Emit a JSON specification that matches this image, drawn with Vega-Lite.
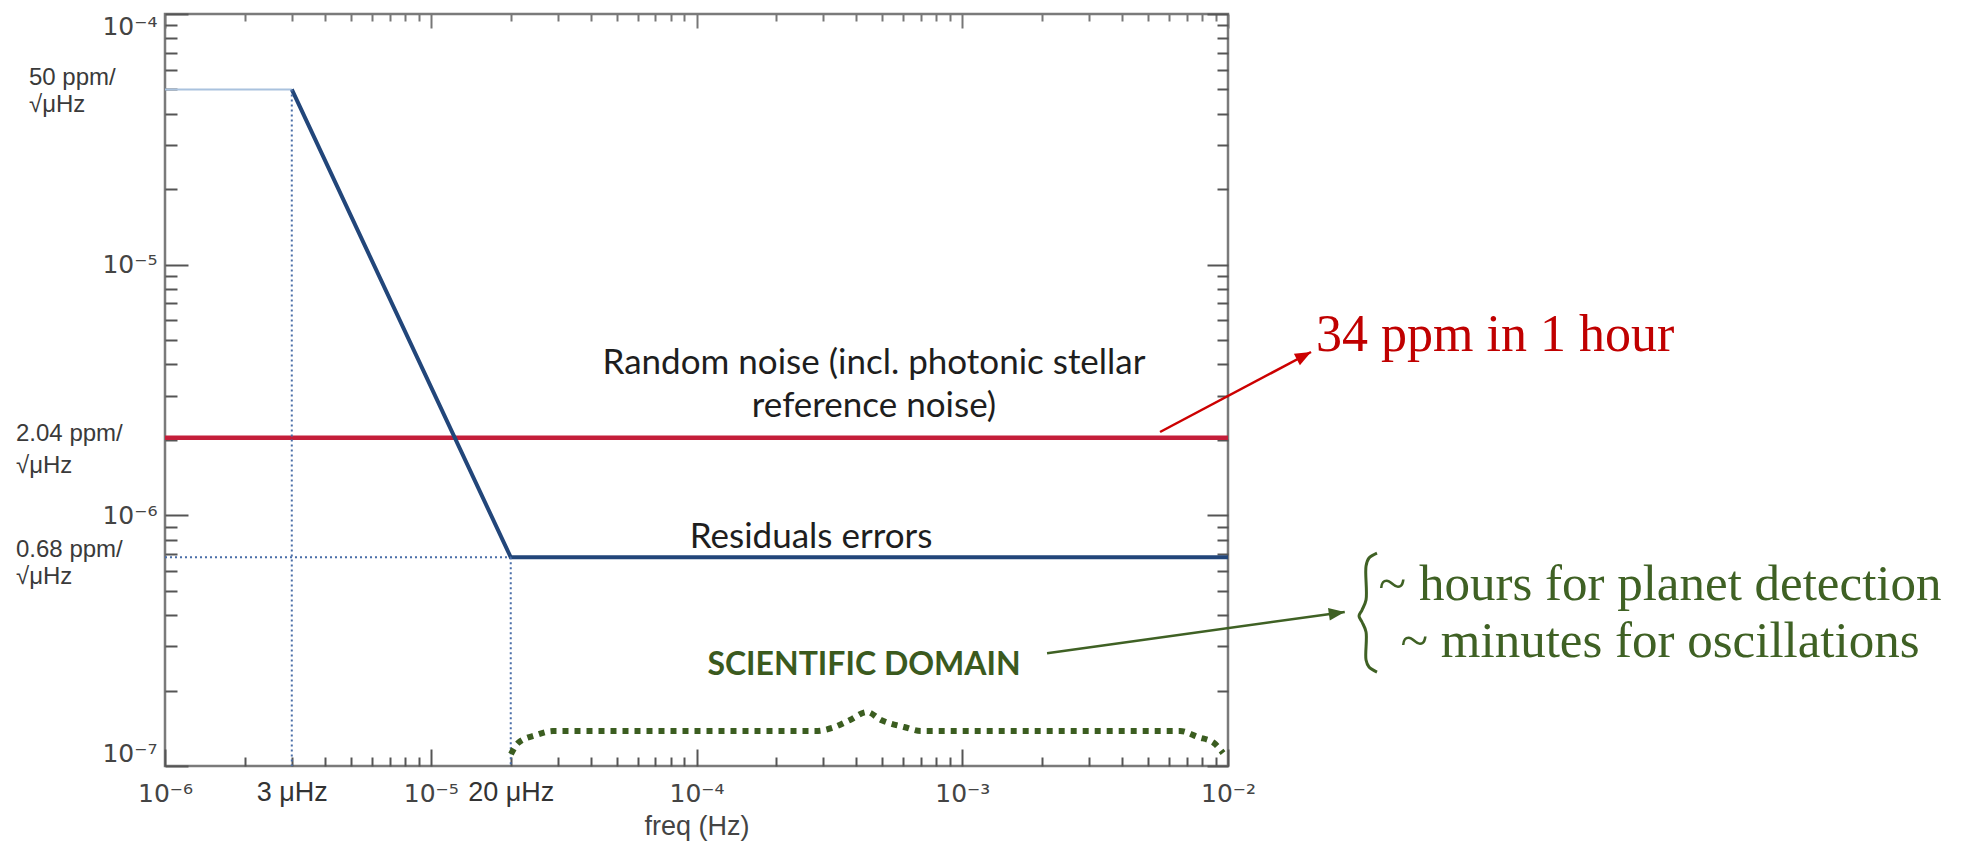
{
  "$schema": "https://vega.github.io/schema/vega-lite/v6.json",
  "width": 1063,
  "height": 752,
  "autosize": {"type": "none"},
  "padding": {"left": 165, "top": 14, "right": 740, "bottom": 79},
  "background": "white",
  "config": {
    "view": {"stroke": "#7a7a7a", "strokeWidth": 2.5},
    "axis": {"grid": false, "domain": false, "labelOverlap": false, "tickColor": "#555555", "tickWidth": 2, "labelFont": "Liberation Sans", "labelColor": "#444444", "titleFont": "Liberation Sans"}
  },
  "resolve": {"axis": {"x": "independent", "y": "independent"}},
  "datasets": {
    "red": [{"x": 1e-6, "y": 2.04e-6}, {"x": 1e-2, "y": 2.04e-6}],
    "blue": [{"x": 3e-6, "y": 5e-5}, {"x": 2e-5, "y": 6.8e-7}, {"x": 1e-2, "y": 6.8e-7}],
    "guideSolid": [{"x": 1e-6, "x2": 3e-6, "y": 5e-5}],
    "guideDotted": [
      {"x": 3e-6, "x2": 3e-6, "y": 5e-5, "y2": 1e-7},
      {"x": 2e-5, "x2": 2e-5, "y": 6.8e-7, "y2": 1e-7},
      {"x": 1e-6, "x2": 2e-5, "y": 6.8e-7, "y2": 6.8e-7}
    ],
    "domainBrace": [
      {"x": 2.004e-5, "y": 1.116e-7}, {"x": 2.13e-5, "y": 1.235e-7}, {"x": 2.49e-5, "y": 1.329e-7},
      {"x": 2.884e-5, "y": 1.379e-7}, {"x": 2.8e-4, "y": 1.379e-7}, {"x": 3.236e-4, "y": 1.418e-7},
      {"x": 3.781e-4, "y": 1.526e-7}, {"x": 4.38e-4, "y": 1.642e-7}, {"x": 4.947e-4, "y": 1.526e-7},
      {"x": 6.036e-4, "y": 1.431e-7}, {"x": 6.996e-4, "y": 1.379e-7}, {"x": 6.597e-3, "y": 1.379e-7},
      {"x": 7.713e-3, "y": 1.305e-7}, {"x": 8.857e-3, "y": 1.235e-7}, {"x": 9.577e-3, "y": 1.126e-7}
    ],
    "sideBrace": [
      {"i": 1, "x": 0.03636, "y": 7.074e-7}, {"i": 2, "x": 0.03393, "y": 6.76e-7}, {"i": 3, "x": 0.03307, "y": 6.28e-7},
      {"i": 4, "x": 0.03307, "y": 4.6e-7}, {"i": 5, "x": 0.03193, "y": 4.19e-7}, {"i": 6, "x": 0.03112, "y": 3.967e-7},
      {"i": 7, "x": 0.03193, "y": 3.754e-7}, {"i": 8, "x": 0.03307, "y": 3.424e-7}, {"i": 9, "x": 0.03307, "y": 2.648e-7},
      {"i": 10, "x": 0.03393, "y": 2.483e-7}, {"i": 11, "x": 0.03636, "y": 2.371e-7}
    ],
    "redArrow": [{"x": 5.55e-3, "y": 2.15e-6}, {"x": 2.053e-2, "y": 4.484e-6}],
    "redTip": [{"x": 2.053e-2, "y": 4.484e-6}],
    "greenArrow": [{"x": 2.085e-3, "y": 2.82e-7}, {"x": 2.75e-2, "y": 4.115e-7}],
    "greenTip": [{"x": 2.75e-2, "y": 4.115e-7}],
    "plotText": [
      {"t": "Random noise (incl. photonic stellar", "x": 4.655e-4, "y": 3.663e-6},
      {"t": "reference noise)", "x": 4.655e-4, "y": 2.468e-6},
      {"t": "Residuals errors", "x": 2.698e-4, "y": 7.407e-7}
    ],
    "domainText": [{"t": "SCIENTIFIC DOMAIN", "x": 4.27e-4, "y": 2.307e-7}],
    "leftText": [
      {"t": "50 ppm/", "x": 3.077e-7, "y": 5.209e-5},
      {"t": "√μHz", "x": 3.077e-7, "y": 4.064e-5},
      {"t": "2.04 ppm/", "x": 2.75e-7, "y": 1.98e-6},
      {"t": "√μHz", "x": 2.75e-7, "y": 1.475e-6},
      {"t": "0.68 ppm/", "x": 2.75e-7, "y": 6.82e-7},
      {"t": "√μHz", "x": 2.75e-7, "y": 5.32e-7}
    ],
    "redText": [{"t": "34 ppm in 1 hour", "x": 2.144e-2, "y": 4.525e-6}],
    "greenText": [
      {"t": "~ hours for planet detection", "x": 0.4223, "y": 4.596e-7},
      {"t": "~ minutes for oscillations", "x": 0.4223, "y": 2.722e-7}
    ]
  },
  "layer": [
    {
      "data": {"name": "red"},
      "mark": {"type": "line", "color": "#c41e3a", "strokeWidth": 4.5},
      "encoding": {
        "x": {"field": "x", "type": "quantitative", "scale": {"type": "log", "domain": [1e-6, 1e-2], "nice": false},
          "axis": {"orient": "bottom", "values": [1e-6, 1e-5, 1e-4, 1e-3, 1e-2], "tickSize": -17, "labelPadding": 32, "labelFont": "DejaVu Sans", "labelFontSize": 25, "labelFlush": false,
            "labelExpr": "datum.value < 5e-6 ? '10⁻⁶' : datum.value < 5e-5 ? '10⁻⁵' : datum.value < 5e-4 ? '10⁻⁴' : datum.value < 5e-3 ? '10⁻³' : '10⁻²'",
            "title": "freq (Hz)", "titleFontSize": 27, "titleFontWeight": "normal", "titleColor": "#444444", "titlePadding": 7}},
        "y": {"field": "y", "type": "quantitative", "scale": {"type": "log", "domain": [1e-7, 1e-4], "nice": false},
          "axis": {"orient": "left", "values": [1e-7, 1e-6, 1e-5, 1e-4], "tickSize": -23, "labelPadding": 31, "labelFont": "DejaVu Sans", "labelFontSize": 25, "labelFlush": true,
            "labelExpr": "datum.value < 5e-7 ? '10⁻⁷' : datum.value < 5e-6 ? '10⁻⁶' : datum.value < 5e-5 ? '10⁻⁵' : '10⁻⁴'", "title": null}}
      }
    },
    {
      "data": {"name": "blue"},
      "mark": {"type": "line", "color": "#22467a", "strokeWidth": 4},
      "encoding": {
        "x": {"field": "x", "type": "quantitative", "scale": {"type": "log", "domain": [1e-6, 1e-2], "nice": false},
          "axis": {"orient": "bottom", "values": [2e-6, 3e-6, 4e-6, 5e-6, 6e-6, 7e-6, 8e-6, 9e-6, 2e-5, 3e-5, 4e-5, 5e-5, 6e-5, 7e-5, 8e-5, 9e-5, 2e-4, 3e-4, 4e-4, 5e-4, 6e-4, 7e-4, 8e-4, 9e-4, 2e-3, 3e-3, 4e-3, 5e-3, 6e-3, 7e-3, 8e-3, 9e-3], "tickSize": -9, "labels": false, "title": null}},
        "y": {"field": "y", "type": "quantitative", "scale": {"type": "log", "domain": [1e-7, 1e-4], "nice": false},
          "axis": {"orient": "left", "values": [2e-7, 3e-7, 4e-7, 5e-7, 6e-7, 7e-7, 8e-7, 9e-7, 2e-6, 3e-6, 4e-6, 5e-6, 6e-6, 7e-6, 8e-6, 9e-6, 2e-5, 3e-5, 4e-5, 5e-5, 6e-5, 7e-5, 8e-5, 9e-5], "tickSize": -12, "labels": false, "title": null}}
      }
    },
    {
      "data": {"name": "guideSolid"},
      "mark": {"type": "rule", "color": "#a9c2de", "strokeWidth": 2},
      "encoding": {
        "x": {"field": "x", "type": "quantitative", "scale": {"type": "log", "domain": [1e-6, 1e-2], "nice": false},
          "axis": {"orient": "top", "values": [1e-6, 1e-5, 1e-4, 1e-3, 1e-2], "tickSize": -14, "labels": false, "title": null, "tickColor": "#777777"}},
        "x2": {"field": "x2"},
        "y": {"field": "y", "type": "quantitative", "scale": {"type": "log", "domain": [1e-7, 1e-4], "nice": false},
          "axis": {"orient": "right", "values": [1e-7, 1e-6, 1e-5, 1e-4], "tickSize": -21, "labels": false, "title": null}}
      }
    },
    {
      "data": {"name": "guideDotted"},
      "mark": {"type": "rule", "color": "#4a6ea8", "strokeWidth": 2, "strokeDash": [2, 3]},
      "encoding": {
        "x": {"field": "x", "type": "quantitative", "scale": {"type": "log", "domain": [1e-6, 1e-2], "nice": false},
          "axis": {"orient": "top", "values": [2e-6, 3e-6, 4e-6, 5e-6, 6e-6, 7e-6, 8e-6, 9e-6, 2e-5, 3e-5, 4e-5, 5e-5, 6e-5, 7e-5, 8e-5, 9e-5, 2e-4, 3e-4, 4e-4, 5e-4, 6e-4, 7e-4, 8e-4, 9e-4, 2e-3, 3e-3, 4e-3, 5e-3, 6e-3, 7e-3, 8e-3, 9e-3], "tickSize": -7, "labels": false, "title": null, "tickColor": "#777777"}},
        "x2": {"field": "x2"},
        "y": {"field": "y", "type": "quantitative", "scale": {"type": "log", "domain": [1e-7, 1e-4], "nice": false},
          "axis": {"orient": "right", "values": [2e-7, 3e-7, 4e-7, 5e-7, 6e-7, 7e-7, 8e-7, 9e-7, 2e-6, 3e-6, 4e-6, 5e-6, 6e-6, 7e-6, 8e-6, 9e-6, 2e-5, 3e-5, 4e-5, 5e-5, 6e-5, 7e-5, 8e-5, 9e-5], "tickSize": -11, "labels": false, "title": null}},
        "y2": {"field": "y2"}
      }
    },
    {
      "data": {"name": "domainBrace"},
      "mark": {"type": "line", "color": "#3b5d20", "strokeWidth": 6, "strokeDash": [6, 6], "interpolate": "monotone"},
      "encoding": {
        "x": {"field": "x", "type": "quantitative", "scale": {"type": "log", "domain": [1e-6, 1e-2], "nice": false},
          "axis": {"orient": "bottom", "values": [3e-6, 2e-5], "ticks": false, "labelPadding": 13, "labelFontSize": 27, "labelColor": "#333333", "labelFlush": false,
            "labelExpr": "datum.value < 1e-5 ? '3 μHz' : '20 μHz'", "title": null}},
        "y": {"field": "y", "type": "quantitative", "scale": {"type": "log", "domain": [1e-7, 1e-4], "nice": false}, "axis": null}
      }
    },
    {
      "data": {"name": "sideBrace"},
      "mark": {"type": "line", "color": "#3f6124", "strokeWidth": 3, "interpolate": "catmull-rom"},
      "encoding": {
        "x": {"field": "x", "type": "quantitative", "scale": {"type": "log", "domain": [1e-6, 1e-2], "nice": false}, "axis": null},
        "y": {"field": "y", "type": "quantitative", "scale": {"type": "log", "domain": [1e-7, 1e-4], "nice": false}, "axis": null},
        "order": {"field": "i", "type": "quantitative"}
      }
    },
    {
      "data": {"name": "redArrow"},
      "mark": {"type": "line", "color": "#cc0000", "strokeWidth": 2.5},
      "encoding": {
        "x": {"field": "x", "type": "quantitative", "scale": {"type": "log", "domain": [1e-6, 1e-2], "nice": false}, "axis": null},
        "y": {"field": "y", "type": "quantitative", "scale": {"type": "log", "domain": [1e-7, 1e-4], "nice": false}, "axis": null}
      }
    },
    {
      "data": {"name": "redTip"},
      "mark": {"type": "point", "shape": "M0,0L0.8,2L-0.8,2Z", "size": 256, "angle": 62, "filled": true, "color": "#cc0000", "opacity": 1, "strokeWidth": 0},
      "encoding": {
        "x": {"field": "x", "type": "quantitative", "scale": {"type": "log", "domain": [1e-6, 1e-2], "nice": false}, "axis": null},
        "y": {"field": "y", "type": "quantitative", "scale": {"type": "log", "domain": [1e-7, 1e-4], "nice": false}, "axis": null}
      }
    },
    {
      "data": {"name": "greenArrow"},
      "mark": {"type": "line", "color": "#3f6124", "strokeWidth": 2.5},
      "encoding": {
        "x": {"field": "x", "type": "quantitative", "scale": {"type": "log", "domain": [1e-6, 1e-2], "nice": false}, "axis": null},
        "y": {"field": "y", "type": "quantitative", "scale": {"type": "log", "domain": [1e-7, 1e-4], "nice": false}, "axis": null}
      }
    },
    {
      "data": {"name": "greenTip"},
      "mark": {"type": "point", "shape": "M0,0L0.8,2L-0.8,2Z", "size": 256, "angle": 82, "filled": true, "color": "#3f6124", "opacity": 1, "strokeWidth": 0},
      "encoding": {
        "x": {"field": "x", "type": "quantitative", "scale": {"type": "log", "domain": [1e-6, 1e-2], "nice": false}, "axis": null},
        "y": {"field": "y", "type": "quantitative", "scale": {"type": "log", "domain": [1e-7, 1e-4], "nice": false}, "axis": null}
      }
    },
    {
      "data": {"name": "plotText"},
      "mark": {"type": "text", "font": "Lato", "fontSize": 35, "color": "#1e1e1e", "align": "center", "baseline": "alphabetic"},
      "encoding": {
        "x": {"field": "x", "type": "quantitative", "scale": {"type": "log", "domain": [1e-6, 1e-2], "nice": false}, "axis": null},
        "y": {"field": "y", "type": "quantitative", "scale": {"type": "log", "domain": [1e-7, 1e-4], "nice": false}, "axis": null},
        "text": {"field": "t"}
      }
    },
    {
      "data": {"name": "domainText"},
      "mark": {"type": "text", "font": "Lato", "fontSize": 32, "fontWeight": "bold", "color": "#3b5a1e", "align": "center", "baseline": "alphabetic"},
      "encoding": {
        "x": {"field": "x", "type": "quantitative", "scale": {"type": "log", "domain": [1e-6, 1e-2], "nice": false}, "axis": null},
        "y": {"field": "y", "type": "quantitative", "scale": {"type": "log", "domain": [1e-7, 1e-4], "nice": false}, "axis": null},
        "text": {"field": "t"}
      }
    },
    {
      "data": {"name": "leftText"},
      "mark": {"type": "text", "font": "Liberation Sans", "fontSize": 24, "color": "#3a3a3a", "align": "left", "baseline": "alphabetic"},
      "encoding": {
        "x": {"field": "x", "type": "quantitative", "scale": {"type": "log", "domain": [1e-6, 1e-2], "nice": false}, "axis": null},
        "y": {"field": "y", "type": "quantitative", "scale": {"type": "log", "domain": [1e-7, 1e-4], "nice": false}, "axis": null},
        "text": {"field": "t"}
      }
    },
    {
      "data": {"name": "redText"},
      "mark": {"type": "text", "font": "Liberation Serif", "fontSize": 52, "color": "#c00000", "align": "left", "baseline": "alphabetic"},
      "encoding": {
        "x": {"field": "x", "type": "quantitative", "scale": {"type": "log", "domain": [1e-6, 1e-2], "nice": false}, "axis": null},
        "y": {"field": "y", "type": "quantitative", "scale": {"type": "log", "domain": [1e-7, 1e-4], "nice": false}, "axis": null},
        "text": {"field": "t"}
      }
    },
    {
      "data": {"name": "greenText"},
      "mark": {"type": "text", "font": "Liberation Serif", "fontSize": 51, "color": "#3f6124", "align": "center", "baseline": "alphabetic"},
      "encoding": {
        "x": {"field": "x", "type": "quantitative", "scale": {"type": "log", "domain": [1e-6, 1e-2], "nice": false}, "axis": null},
        "y": {"field": "y", "type": "quantitative", "scale": {"type": "log", "domain": [1e-7, 1e-4], "nice": false}, "axis": null},
        "text": {"field": "t"}
      }
    }
  ]
}
